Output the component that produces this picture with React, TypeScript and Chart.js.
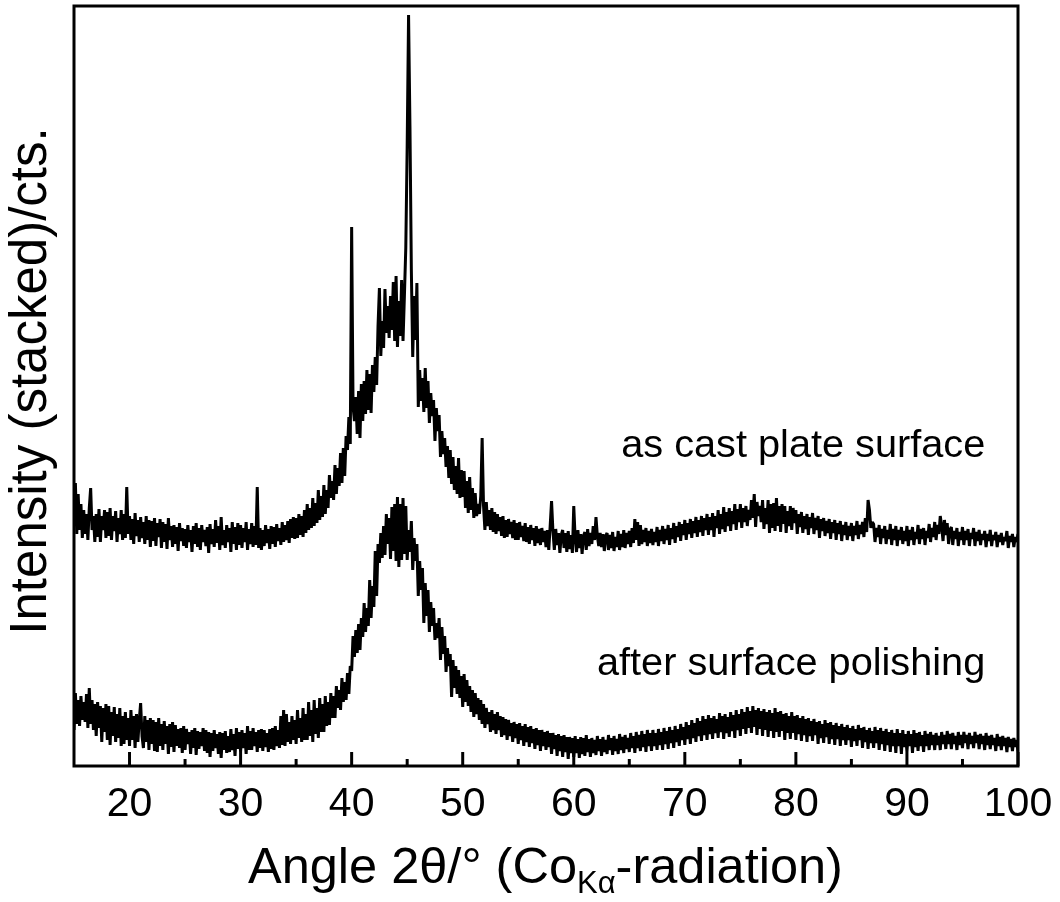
import { useEffect, useRef } from 'react';
import { Chart, registerables, Plugin } from 'chart.js';

Chart.register(...registerables);

const FONT = '"Liberation Sans", Arial, sans-serif';

const startAngle = 15;
const angleStep = 0.125;

// intensity, 8 samples per degree, one row per degree from 15
const asCastPlate = [
  240, 283, 232, 272, 236, 262, 228, 256,
  232, 252, 226, 258, 278, 236, 250, 224,
  252, 229, 257, 224, 250, 236, 256, 228,
  254, 230, 258, 226, 250, 235, 255, 224,
  248, 232, 256, 226, 252, 228, 279, 232,
  250, 226, 247, 222, 253, 230, 246, 224,
  249, 228, 244, 222, 250, 226, 246, 219,
  245, 225, 248, 220, 243, 229, 247, 218,
  244, 224, 242, 217, 248, 226, 240, 219,
  241, 222, 239, 215, 243, 225, 238, 220,
  237, 218, 241, 224, 236, 214, 240, 222,
  243, 219, 238, 216, 241, 224, 236, 220,
  239, 213, 242, 222, 237, 219, 246, 223,
  240, 216, 249, 221, 236, 218, 241, 224,
  238, 214, 244, 222, 239, 216, 243, 221,
  241, 218, 238, 224, 244, 216, 237, 222,
  243, 219, 240, 221, 279, 218, 238, 216,
  236, 220, 241, 223, 237, 217, 240, 222,
  239, 219, 242, 225, 238, 221, 244, 224,
  241, 226, 245, 223, 247, 228, 249, 227,
  248, 228, 252, 231, 250, 229, 256, 233,
  262, 236, 258, 238, 268, 240, 263, 243,
  276, 246, 270, 249, 281, 252, 276, 258,
  291, 268, 285, 266, 301, 272, 298, 280,
  313, 283, 318, 290, 330, 316, 349, 322,
  539, 360, 345, 369, 332, 375, 328, 382,
  345, 385, 352, 396, 356, 392, 353, 401,
  374, 409, 381, 440, 478, 410, 445, 418,
  477, 433, 460, 428, 470, 436, 484, 425,
  490, 419, 465, 430, 486, 425, 470, 518,
  620, 751, 640, 496, 409, 470, 426, 483,
  359, 396, 365, 388, 354, 398, 358, 385,
  343, 373, 350, 366, 325, 358, 335, 351,
  309, 335, 312, 328, 299, 320, 288, 316,
  282, 309, 276, 300, 272, 308, 268, 296,
  269, 295, 258, 285, 253, 289, 256, 278,
  248, 273, 250, 262, 252, 270, 328, 260,
  236, 264, 240, 256, 236, 258, 234, 254,
  232, 252, 235, 249, 230, 250, 228, 246,
  229, 247, 232, 244, 228, 246, 226, 243,
  226, 244, 229, 240, 225, 243, 224, 239,
  222, 241, 226, 238, 220, 240, 223, 237,
  221, 238, 224, 235, 219, 236, 216, 240,
  265, 235, 216, 237, 221, 233, 213, 231,
  236, 218, 233, 214, 235, 217, 231, 213,
  260, 228, 214, 236, 218, 232, 212, 230,
  234, 216, 237, 220, 233, 222, 240, 226,
  249, 230, 220, 233, 219, 232, 215, 230,
  233, 216, 231, 218, 234, 215, 229, 219,
  235, 216, 232, 219, 236, 218, 233, 222,
  235, 219, 238, 223, 247, 226, 244, 220,
  241, 222, 236, 224, 238, 220, 235, 223,
  237, 221, 234, 224, 239, 220, 236, 225,
  240, 222, 237, 226, 241, 221, 238, 227,
  243, 223, 240, 229, 244, 225, 242, 231,
  246, 226, 243, 232, 247, 228, 245, 233,
  249, 229, 246, 234, 250, 230, 248, 236,
  252, 231, 249, 236, 253, 229, 250, 238,
  256, 232, 252, 237, 259, 234, 254, 240,
  258, 235, 255, 242, 262, 236, 257, 244,
  262, 238, 258, 244, 260, 240, 256, 246,
  266, 248, 272, 239, 264, 250, 260, 244,
  266, 237, 258, 242, 266, 233, 262, 238,
  263, 235, 268, 240, 260, 234, 262, 242,
  260, 233, 255, 240, 260, 236, 258, 243,
  256, 232, 252, 239, 254, 233, 250, 237,
  252, 231, 249, 238, 253, 232, 248, 236,
  250, 228, 247, 235, 248, 230, 245, 233,
  247, 227, 244, 233, 246, 226, 243, 232,
  245, 225, 241, 231, 244, 226, 240, 230,
  243, 225, 240, 231, 245, 227, 241, 232,
  244, 229, 248, 234, 266, 256, 238, 244,
  242, 224, 238, 229, 241, 222, 237, 228,
  240, 222, 236, 227, 242, 221, 237, 226,
  240, 220, 236, 226, 239, 222, 235, 225,
  240, 220, 236, 226, 239, 221, 234, 227,
  241, 222, 237, 227, 238, 221, 235, 228,
  242, 224, 238, 229, 244, 226, 241, 232,
  250, 240, 225, 246, 231, 243, 222, 236,
  239, 221, 235, 227, 238, 220, 234, 226,
  239, 221, 235, 226, 237, 220, 233, 227,
  238, 220, 234, 225, 236, 221, 232, 226,
  235, 219, 232, 225, 236, 220, 231, 226,
  234, 219, 231, 224, 233, 221, 229, 225,
  235, 218, 230, 224, 232, 219, 229, 224,
  232,
];

const afterPolishing = [
  36, 73, 42, 66, 40, 70, 46, 64,
  44, 72, 38, 78, 42, 66, 36, 62,
  30, 64, 38, 60, 24, 58, 34, 62,
  26, 60, 21, 54, 30, 59, 24, 52,
  28, 58, 20, 50, 22, 54, 26, 48,
  20, 56, 26, 50, 18, 52, 24, 46,
  63, 30, 18, 50, 24, 46, 16, 48,
  22, 46, 15, 44, 14, 48, 20, 42,
  16, 45, 22, 40, 12, 42, 19, 44,
  14, 41, 20, 37, 18, 38, 13, 40,
  16, 37, 22, 34, 12, 36, 18, 38,
  11, 35, 17, 34, 20, 38, 15, 36,
  13, 34, 9, 33, 15, 36, 18, 32,
  12, 34, 8, 33, 16, 35, 13, 30,
  14, 37, 16, 32, 10, 38, 17, 34,
  14, 36, 18, 33, 12, 40, 16, 35,
  16, 38, 20, 34, 14, 36, 18, 37,
  15, 36, 19, 33, 14, 37, 17, 38,
  16, 40, 20, 36, 18, 50, 21, 56,
  20, 52, 24, 44, 22, 50, 26, 46,
  22, 56, 28, 48, 24, 58, 26, 52,
  26, 64, 30, 56, 24, 66, 32, 58,
  28, 68, 34, 62, 34, 70, 40, 64,
  41, 73, 48, 70, 48, 80, 58, 76,
  56, 88, 64, 84, 66, 93, 72, 100,
  95, 130, 109, 136, 113, 142, 116, 148,
  129, 163, 134, 158, 140, 186, 148, 180,
  159, 215, 170, 222, 203, 233, 208, 240,
  211, 252, 222, 248, 207, 259, 215, 262,
  205, 269, 199, 262, 206, 268, 212, 260,
  206, 236, 214, 245, 196, 228, 205, 222,
  170, 205, 176, 198, 143, 183, 150, 176,
  134, 164, 140, 158, 126, 143, 128, 148,
  106, 139, 112, 130, 94, 118, 100, 112,
  69, 106, 78, 100, 72, 96, 68, 90,
  59, 92, 64, 86, 60, 80, 54, 76,
  49, 73, 52, 68, 46, 66, 42, 62,
  38, 58, 42, 54, 34, 56, 36, 52,
  32, 54, 36, 50, 29, 49, 31, 47,
  26, 46, 30, 43, 24, 44, 28, 42,
  22, 43, 26, 40, 20, 42, 24, 39,
  19, 40, 23, 37, 17, 38, 21, 36,
  15, 36, 20, 34, 16, 35, 19, 33,
  12, 33, 17, 31, 10, 32, 15, 30,
  9, 31, 14, 29, 7, 29, 13, 28,
  9, 30, 13, 27, 8, 29, 12, 28,
  10, 31, 14, 27, 9, 28, 13, 26,
  11, 30, 15, 27, 10, 29, 14, 26,
  12, 31, 16, 28, 11, 30, 15, 27,
  12, 32, 16, 29, 13, 31, 17, 28,
  14, 33, 18, 30, 13, 34, 18, 31,
  15, 35, 19, 32, 14, 36, 20, 33,
  15, 36, 20, 33, 16, 37, 21, 34,
  16, 38, 22, 35, 17, 39, 23, 36,
  18, 40, 24, 37, 20, 42, 26, 39,
  21, 44, 27, 41, 22, 46, 28, 43,
  24, 48, 30, 45, 25, 50, 31, 47,
  26, 51, 32, 48, 27, 50, 33, 47,
  28, 53, 34, 50, 27, 52, 33, 49,
  29, 54, 35, 51, 28, 56, 36, 52,
  30, 57, 37, 54, 32, 59, 38, 55,
  33, 60, 39, 56, 31, 58, 37, 55,
  30, 57, 36, 54, 29, 56, 35, 53,
  28, 58, 34, 54, 29, 55, 35, 52,
  26, 53, 33, 50, 27, 54, 33, 50,
  26, 51, 32, 48, 25, 50, 31, 47,
  24, 48, 30, 45, 25, 47, 31, 44,
  22, 45, 28, 42, 23, 46, 29, 43,
  22, 44, 27, 41, 21, 43, 27, 40,
  20, 42, 26, 39, 21, 41, 26, 38,
  19, 40, 25, 37, 20, 41, 26, 38,
  18, 39, 24, 36, 17, 38, 23, 35,
  18, 39, 23, 36, 16, 38, 22, 35,
  15, 37, 21, 34, 14, 36, 20, 33,
  13, 37, 20, 33, 12, 36, 19, 32,
  14, 35, 20, 32, 13, 36, 19, 33,
  15, 34, 20, 31, 14, 35, 20, 32,
  16, 34, 21, 31, 16, 33, 21, 30,
  16, 34, 22, 31, 17, 35, 22, 32,
  17, 33, 22, 30, 16, 34, 21, 31,
  18, 34, 23, 31, 17, 33, 22, 30,
  18, 34, 23, 31, 17, 32, 22, 30,
  16, 33, 21, 30, 17, 31, 21, 28,
  15, 32, 20, 29, 16, 30, 20, 28,
  14, 29, 19, 27, 15, 28, 19, 26,
  14,
];

const majorTicks = [20, 30, 40, 50, 60, 70, 80, 90, 100];
const minorTicks = [25, 35, 45, 55, 65, 75, 85, 95];

const toPoints = (values: number[]) =>
  values.map((y, i) => ({ x: startAngle + i * angleStep, y }));

// frame, inward ticks and the text chart.js can't lay out (rotated title, subscript)
const framePlugin: Plugin<'line'> = {
  id: 'frame',
  afterDatasetsDraw(chart) {
    const { ctx, chartArea, scales } = chart;
    const { left, right, top, bottom } = chartArea;
    ctx.save();
    ctx.strokeStyle = '#000';
    ctx.fillStyle = '#000';
    ctx.lineWidth = 3;
    ctx.strokeRect(left, top, right - left, bottom - top);

    const drawTicks = (list: number[], len: number) => {
      list.forEach((v) => {
        const px = scales.x.getPixelForValue(v);
        ctx.beginPath();
        ctx.moveTo(px, bottom);
        ctx.lineTo(px, bottom - len);
        ctx.stroke();
      });
    };
    drawTicks(majorTicks, 14);
    drawTicks(minorTicks, 7);

    // sample names
    ctx.textAlign = 'right';
    ctx.textBaseline = 'alphabetic';
    ctx.font = `39.7px ${FONT}`;
    const labelX = scales.x.getPixelForValue(97.05);
    ctx.fillText('as cast plate surface', labelX, scales.y.getPixelForValue(309));
    ctx.fillText('after surface polishing', labelX, scales.y.getPixelForValue(91));

    // x title
    ctx.textAlign = 'left';
    const parts: [string, number, number][] = [
      ['Angle 2θ/° (Co', 50.5, 883],
      ['Kα', 31, 893],
      ['-radiation)', 50.5, 883],
    ];
    let x = 248;
    parts.forEach(([text, size, y]) => {
      ctx.font = `${size}px ${FONT}`;
      ctx.fillText(text, x, y);
      x += ctx.measureText(text).width;
    });

    // y title
    ctx.save();
    ctx.translate(46, 381);
    ctx.rotate(-Math.PI / 2);
    ctx.textAlign = 'center';
    ctx.font = `51px ${FONT}`;
    ctx.fillText('Intensity (stacked)/cts.', 0, 0);
    ctx.restore();
    ctx.restore();
  },
};

export default function App() {
  const chartRef = useRef<HTMLCanvasElement | null>(null);

  useEffect(() => {
    if (!chartRef.current) return;

    const chartInstance = new Chart(chartRef.current, {
      type: 'line',
      data: {
        datasets: [
          {
            label: 'as cast plate surface',
            data: toPoints(asCastPlate),
            borderColor: '#000',
            borderWidth: 3,
            borderJoinStyle: 'bevel',
            pointRadius: 0,
            tension: 0,
          },
          {
            label: 'after surface polishing',
            data: toPoints(afterPolishing),
            borderColor: '#000',
            borderWidth: 3,
            borderJoinStyle: 'bevel',
            pointRadius: 0,
            tension: 0,
          },
        ],
      },
      options: {
        animation: false,
        responsive: false,
        layout: { padding: { left: 74, right: 42, top: 6, bottom: 0 } },
        plugins: {
          legend: { display: false },
          tooltip: { enabled: false },
        },
        scales: {
          x: {
            type: 'linear',
            min: 15,
            max: 100,
            grid: { display: false, drawTicks: false },
            border: { display: false },
            afterBuildTicks: (scale) => {
              scale.ticks = majorTicks.map((value) => ({ value }));
            },
            afterFit: (scale) => {
              scale.height = 136;
              scale.paddingLeft = 0;
              scale.paddingRight = 0;
            },
            ticks: {
              padding: 14,
              autoSkip: false,
              maxRotation: 0,
              color: '#000',
              font: { family: FONT, size: 41 },
            },
          },
          y: {
            display: false,
            min: 0,
            max: 760,
          },
        },
      },
      plugins: [framePlugin],
    });

    return () => {
      chartInstance.destroy();
    };
  }, []);

  return (
    <div style={{ position: 'fixed', left: 0, top: 0, width: 1060, height: 902, background: '#fff' }}>
      <canvas ref={chartRef} width={1060} height={902}></canvas>
    </div>
  );
}
